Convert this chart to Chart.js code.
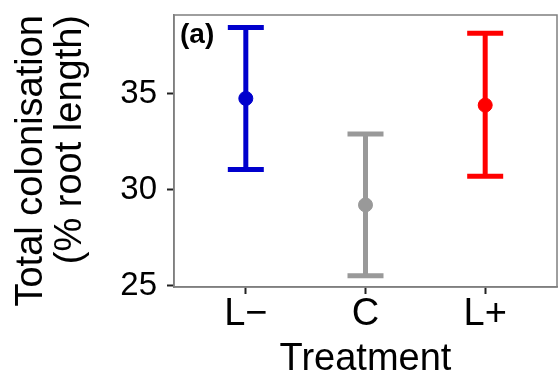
<!DOCTYPE html>
<html>
<head>
<meta charset="utf-8">
<script src="https://cdn.jsdelivr.net/npm/chart.js@4"></script>
<style>
  body { margin: 0; background: #fff; }
  #wrap { width: 558px; height: 379px; }
</style>
</head>
<body>
<div id="wrap"><canvas id="chart" width="558" height="379"></canvas></div>
<script>
// data
var treatments = ['L\u2212', 'C', 'L+'];
var meanValues = [34.75, 29.2, 34.4];
var upperValues = [38.45, 32.9, 38.15];
var lowerValues = [31.05, 25.5, 30.7];
var yTicks = [25, 30, 35];
var panelLabel = '(a)';

var colors = ['#0000CD', '#999999', '#FF0000'];
var fontFamily = '"Liberation Sans", Arial, Helvetica, sans-serif';

var datasets = [];

// mean points (drawn on top)
datasets.push({
    label: 'mean',
    order: 0,
    data: meanValues.map(function (v, i) { return { x: i + 1, y: v }; }),
    pointRadius: 7,
    pointBorderWidth: 1,
    pointBackgroundColor: colors,
    pointBorderColor: colors,
    showLine: false
});

// error bars: vertical segment + caps (pointStyle 'line')
treatments.forEach(function (t, i) {
    datasets.push({
        label: t,
        order: 1,
        data: [{ x: i + 1, y: lowerValues[i] }, { x: i + 1, y: upperValues[i] }],
        showLine: true,
        borderColor: colors[i],
        borderWidth: 5,
        borderCapStyle: 'butt',
        pointStyle: 'line',
        pointRadius: 18,
        pointBorderWidth: 5,
        pointBorderColor: colors[i],
        pointBackgroundColor: colors[i]
    });
});

function noPadding(axis) {
    axis.paddingLeft = 0;
    axis.paddingRight = 0;
    axis.paddingTop = 0;
    axis.paddingBottom = 0;
}

var panelPlugin = {
    id: 'panel',
    afterDraw: function (chart) {
        var ctx = chart.ctx;
        var a = chart.chartArea;
        ctx.save();
        ctx.strokeStyle = '#7f7f7f';
        ctx.lineWidth = 1.5;
        ctx.strokeRect(a.left, a.top, a.right - a.left, a.bottom - a.top);
        ctx.fillStyle = '#000';
        ctx.font = 'bold 28px ' + fontFamily;
        ctx.textBaseline = 'alphabetic';
        ctx.textAlign = 'left';
        ctx.fillText(panelLabel, a.left + 6, a.top + 28);
        ctx.restore();
    }
};

new Chart(document.getElementById('chart'), {
    type: 'scatter',
    data: { datasets: datasets },
    options: {
        responsive: false,
        animation: false,
        layout: { autoPadding: false, padding: { top: 15, right: 1, left: 0, bottom: 0 } },
        plugins: {
            legend: { display: false },
            tooltip: { enabled: false }
        },
        scales: {
            x: {
                type: 'linear',
                min: 0.4,
                max: 3.6,
                afterBuildTicks: function (axis) {
                    axis.ticks = treatments.map(function (t, i) { return { value: i + 1 }; });
                },
                afterFit: function (axis) { axis.height = 92; noPadding(axis); },
                ticks: {
                    autoSkip: false,
                    maxRotation: 0,
                    color: '#000',
                    padding: 2,
                    font: { family: fontFamily, size: 38, lineHeight: 1 },
                    callback: function (v) { return treatments[Math.round(v) - 1]; }
                },
                grid: {
                    drawOnChartArea: false,
                    drawTicks: true,
                    tickLength: 7,
                    tickWidth: 2,
                    tickColor: '#222'
                },
                border: { display: true, color: '#7f7f7f', width: 1.5 },
                title: {
                    display: true,
                    text: 'Treatment',
                    color: '#000',
                    padding: 0,
                    font: { family: fontFamily, size: 38, lineHeight: 1 }
                }
            },
            y: {
                min: 24.92,
                max: 39.1,
                afterBuildTicks: function (axis) {
                    axis.ticks = yTicks.map(function (v) { return { value: v }; });
                },
                afterFit: function (axis) { axis.width = 174; noPadding(axis); },
                ticks: {
                    color: '#000',
                    padding: 10,
                    font: { family: fontFamily, size: 33 }
                },
                grid: {
                    drawOnChartArea: false,
                    drawTicks: true,
                    tickLength: 7,
                    tickWidth: 2,
                    tickColor: '#222'
                },
                border: { display: true, color: '#7f7f7f', width: 1.5 },
                title: {
                    display: true,
                    text: ['Total colonisation', '(% root length)'],
                    align: 'end',
                    color: '#000',
                    padding: { top: 12, bottom: 0 },
                    font: { family: fontFamily, size: 38, lineHeight: 1.03 }
                }
            }
        }
    },
    plugins: [panelPlugin]
});
</script>
</body>
</html>
